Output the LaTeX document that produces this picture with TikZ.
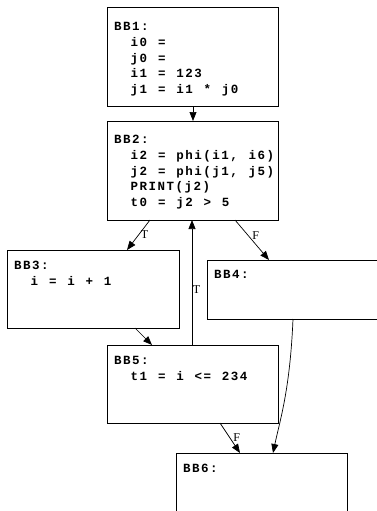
\documentclass[tikz,border=0pt]{standalone}
\usepackage{fontspec}
\setmainfont{Liberation Serif}
\newfontfamily\codefont[LetterSpace=12,WordSpace=1.2]{Liberation Mono}
\usetikzlibrary{arrows.meta,calc}
\newcommand{\ind}{\phantom{BB}}
\begin{document}
\begin{tikzpicture}[x=1pt,y=-1pt,
  bbox/.style={draw=black,line width=0.9pt,fill=white,inner sep=0pt,outer sep=0pt,anchor=north west},
  code/.style={font=\codefont\bfseries\fontsize{12.5}{15.8}\selectfont,align=left,anchor=north west,inner sep=0pt},
  edge/.style={draw=black,line width=0.7pt,-{Triangle[length=9pt,width=7pt]}},
  lbl/.style={font=\fontsize{12}{12}\selectfont,inner sep=0pt}]
\path[use as bounding box] (0,0) rectangle (376,511);
% boxes
\node[bbox,minimum width=171pt,minimum height=99pt] (bb1) at (107,7) {};
\node[bbox,minimum width=171pt,minimum height=99pt] (bb2) at (107,121) {};
\node[bbox,minimum width=172pt,minimum height=78pt] (bb3) at (7,250) {};
\node[bbox,minimum width=180pt,minimum height=59pt] (bb4) at (207,260) {};
\node[bbox,minimum width=171pt,minimum height=78pt] (bb5) at (107,345) {};
\node[bbox,minimum width=171pt,minimum height=70pt] (bb6) at (176,453) {};
% texts
\node[code] (t1) at ($(bb1.north west)+(7,15)$) {BB1:\\\ind i0 =\\\ind j0 =\\\ind i1 = 123\\\ind j1 = i1 * j0};
\node[code] (t2) at ($(bb2.north west)+(7,14)$) {BB2:\\\ind i2 = phi(i1, i6)\\\ind j2 = phi(j1, j5)\\\ind PRINT(j2)\\\ind t0 = j2 > 5};
\node[code] (t3) at ($(bb3.north west)+(7,11)$) {BB3:\\\ind i = i + 1};
\node[code] (t4) at ($(bb4.north west)+(7,10)$) {BB4:};
\node[code] (t5) at ($(bb5.north west)+(7,11)$) {BB5:\\\ind t1 = i <= 234};
\node[code] (t6) at ($(bb6.north west)+(7,11)$) {BB6:};
% edges
\draw[edge] ($(bb1.south west)+(86,0)$) -- ($(bb2.north west)+(86,0)$);
\draw[edge] ($(bb2.south west)+(43,0)$) -- node[lbl,midway,anchor=west,xshift=2pt] {T} ($(bb3.north west)+(120,0)$);
\draw[edge] ($(bb2.south west)+(128,0)$) -- node[lbl,midway,anchor=south west,xshift=0pt] {F} ($(bb4.north west)+(62,0)$);
\draw[edge] ($(bb5.north west)+(85,0)$) -- node[lbl,pos=0.44,anchor=west,xshift=0.5pt] {T} ($(bb2.south west)+(85,0)$);
\draw[edge] ($(bb3.south west)+(128,0)$) -- ($(bb5.north west)+(45,0)$);
\draw[edge] ($(bb4.south west)+(86,0)$) .. controls +(-3,71) and +(7,-33) .. ($(bb6.north west)+(97,0)$);
\draw[edge] ($(bb5.south west)+(113,0)$) -- node[lbl,midway,anchor=west,xshift=3pt] {F} ($(bb6.north west)+(64,0)$);
\end{tikzpicture}
\end{document}
